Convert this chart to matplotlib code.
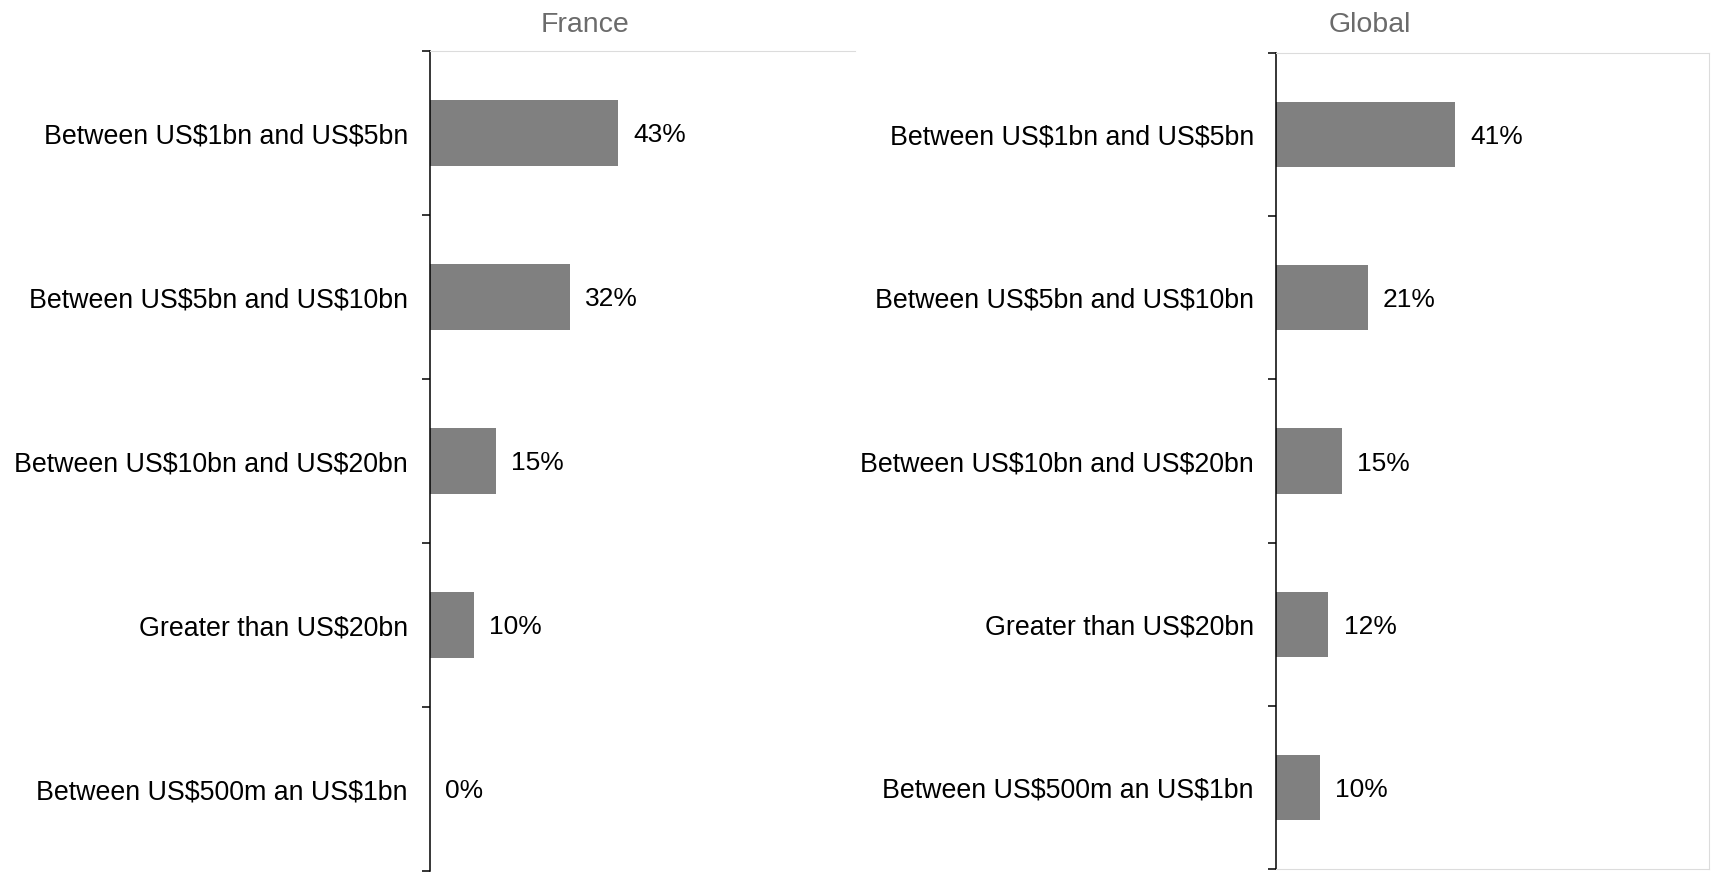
import matplotlib
matplotlib.use("Agg")
import matplotlib.pyplot as plt
from matplotlib.ticker import FixedLocator

plt.rcParams["font.family"] = ["Liberation Sans", "DejaVu Sans"]
plt.rcParams["text.parse_math"] = False

categories = [
    "Between US$1bn and US$5bn",
    "Between US$5bn and US$10bn",
    "Between US$10bn and US$20bn",
    "Greater than US$20bn",
    "Between US$500m an US$1bn",
]
france = [43, 32, 15, 10, 0]
global_vals = [41, 21, 15, 12, 10]
titles = ["France", "Global"]

W, H = 1712, 874
fig = plt.figure(figsize=(W / 100, H / 100), dpi=100)

PX_PER_PCT = 4.37
BAR_COLOR = "#808080"
FRAME_LIGHT = "#dcdcdc"

# panel boxes in pixels: left, right, top, bottom
boxes = [(430, 855, 51, 871), (1276, 1709, 53, 869)]
title_x = [585, 1370]


def draw_panel(box, values, show_frame):
    l, r, t, b = box
    ax = fig.add_axes([l / W, 1 - b / H, (r - l) / W, (b - t) / H])
    y = list(range(len(categories)))
    ax.barh(y, values, height=0.4, color=BAR_COLOR)
    ax.set_xlim(0, (r - l) / PX_PER_PCT)
    ax.set_ylim(len(categories) - 0.5, -0.5)
    ax.set_yticks(y)
    ax.set_yticklabels(categories, fontsize=19.3, va="center_baseline")
    ax.yaxis.set_minor_locator(FixedLocator([i - 0.5 for i in range(len(categories) + 1)]))
    ax.tick_params(axis="y", which="major", length=0, pad=16)
    ax.tick_params(axis="y", which="minor", length=6, width=1.1, direction="out", color="black")
    ax.set_xticks([])
    ax.spines["left"].set_color("black")
    ax.spines["left"].set_linewidth(1.1)
    ax.spines["top"].set_color(FRAME_LIGHT)
    ax.spines["top"].set_linewidth(0.8)
    if show_frame:
        for s in ("right", "bottom"):
            ax.spines[s].set_color(FRAME_LIGHT)
            ax.spines[s].set_linewidth(0.8)
    else:
        ax.spines["right"].set_visible(False)
        ax.spines["bottom"].set_visible(False)
    for yi, v in zip(y, values):
        ax.annotate(f"{v}%", xy=(v, yi), xytext=(11, 0), textcoords="offset points",
                    ha="left", va="center_baseline", fontsize=19, color="black")
    return ax


draw_panel(boxes[0], france, show_frame=False)
draw_panel(boxes[1], global_vals, show_frame=True)

for tx, title in zip(title_x, titles):
    fig.text(tx / W, 1 - 32 / H, title, ha="center", va="baseline", fontsize=20.5, color="#6b6b6b")

fig.savefig("out.png", dpi=100, facecolor="white")
